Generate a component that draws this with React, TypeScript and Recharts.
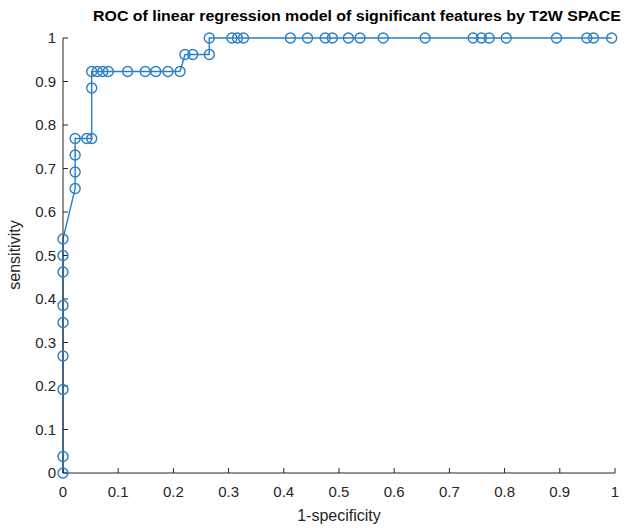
import React from 'react';
import { LineChart, Line, XAxis, YAxis, Label } from 'recharts';

const fpr = [
  0, 0, 0, 0, 0, 0, 0, 0, 0,
  0.022, 0.022, 0.022, 0.022, 0.043, 0.052, 0.052, 0.052,
  0.062, 0.072, 0.082, 0.117, 0.149, 0.168, 0.19, 0.212,
  0.221, 0.235, 0.265, 0.265,
  0.306, 0.316, 0.327, 0.412, 0.443, 0.475, 0.488, 0.517, 0.538, 0.58,
  0.656, 0.743, 0.758, 0.772, 0.803, 0.894, 0.949, 0.961, 0.994
];
const tpr = [
  0, 0.038, 0.192, 0.269, 0.346, 0.385, 0.462, 0.5, 0.538,
  0.654, 0.692, 0.731, 0.769, 0.769, 0.769, 0.885, 0.923,
  0.923, 0.923, 0.923, 0.923, 0.923, 0.923, 0.923, 0.923,
  0.962, 0.962, 0.962, 1,
  1, 1, 1, 1, 1, 1, 1, 1, 1, 1,
  1, 1, 1, 1, 1, 1, 1, 1, 1
];
const ticks = [0, 0.1, 0.2, 0.3, 0.4, 0.5, 0.6, 0.7, 0.8, 0.9, 1];
const title = 'ROC of linear regression model of significant features by T2W SPACE';

const data = fpr.map((x, i) => ({ x, y: tpr[i] }));

const BLUE = '#2a7fc4';
const AXIS = '#262626';
const FONT = '"Liberation Sans", Arial, sans-serif';

const OpenCircle = (props: any) => {
  const { cx, cy, index } = props;
  return <circle key={index} cx={cx} cy={cy} r={5} fill="none" stroke={BLUE} strokeWidth={1.4} />;
};

export default function App() {
  return (
    <div style={{ position: 'absolute', left: 0, top: 0, width: 627, height: 528, background: '#fff' }}>
      <svg width={627} height={34} style={{ position: 'absolute', left: 0, top: 0 }}>
        <text
          x={357}
          y={21}
          textAnchor="middle"
          fontFamily={FONT}
          fontWeight="bold"
          fontSize={14}
          textLength={528}
          lengthAdjust="spacingAndGlyphs"
          fill="#000"
        >
          {title}
        </text>
      </svg>
      <LineChart width={627} height={528} data={data} margin={{ top: 38, right: 12, bottom: 0, left: 0 }}>
        <XAxis
          dataKey="x"
          type="number"
          domain={[0, 1]}
          ticks={ticks}
          height={55}
          tickSize={-5}
          tickMargin={18}
          axisLine={{ stroke: AXIS }}
          tickLine={{ stroke: AXIS }}
          tick={{ fill: AXIS, fontSize: 15, fontFamily: FONT }}
          label={{ value: '1-specificity', position: 'insideBottom', offset: 7, fill: AXIS, fontSize: 16, fontFamily: FONT }}
        />
        <XAxis
          xAxisId="top"
          orientation="top"
          type="number"
          domain={[0, 1]}
          ticks={ticks}
          height={0}
          tickSize={-5}
          tick={false}
          axisLine={{ stroke: AXIS }}
          tickLine={{ stroke: AXIS }}
        />
        <YAxis
          type="number"
          domain={[0, 1]}
          ticks={ticks}
          width={63}
          tickSize={-5}
          tickMargin={12}
          axisLine={{ stroke: AXIS }}
          tickLine={{ stroke: AXIS }}
          tick={{ fill: AXIS, fontSize: 15, fontFamily: FONT }}
        >
          <Label
            content={() => (
              <text
                x={20}
                y={255}
                transform="rotate(-90 20 255)"
                textAnchor="middle"
                fill={AXIS}
                fontSize={16}
                fontFamily={FONT}
              >
                sensitivity
              </text>
            )}
          />
        </YAxis>
        <YAxis
          yAxisId="right"
          orientation="right"
          type="number"
          domain={[0, 1]}
          ticks={ticks}
          width={0}
          tickSize={-5}
          tick={false}
          axisLine={{ stroke: AXIS }}
          tickLine={{ stroke: AXIS }}
        />
        <Line
          type="linear"
          dataKey="y"
          stroke={BLUE}
          strokeWidth={1.4}
          dot={<OpenCircle />}
          activeDot={false}
          isAnimationActive={false}
        />
      </LineChart>
    </div>
  );
}
